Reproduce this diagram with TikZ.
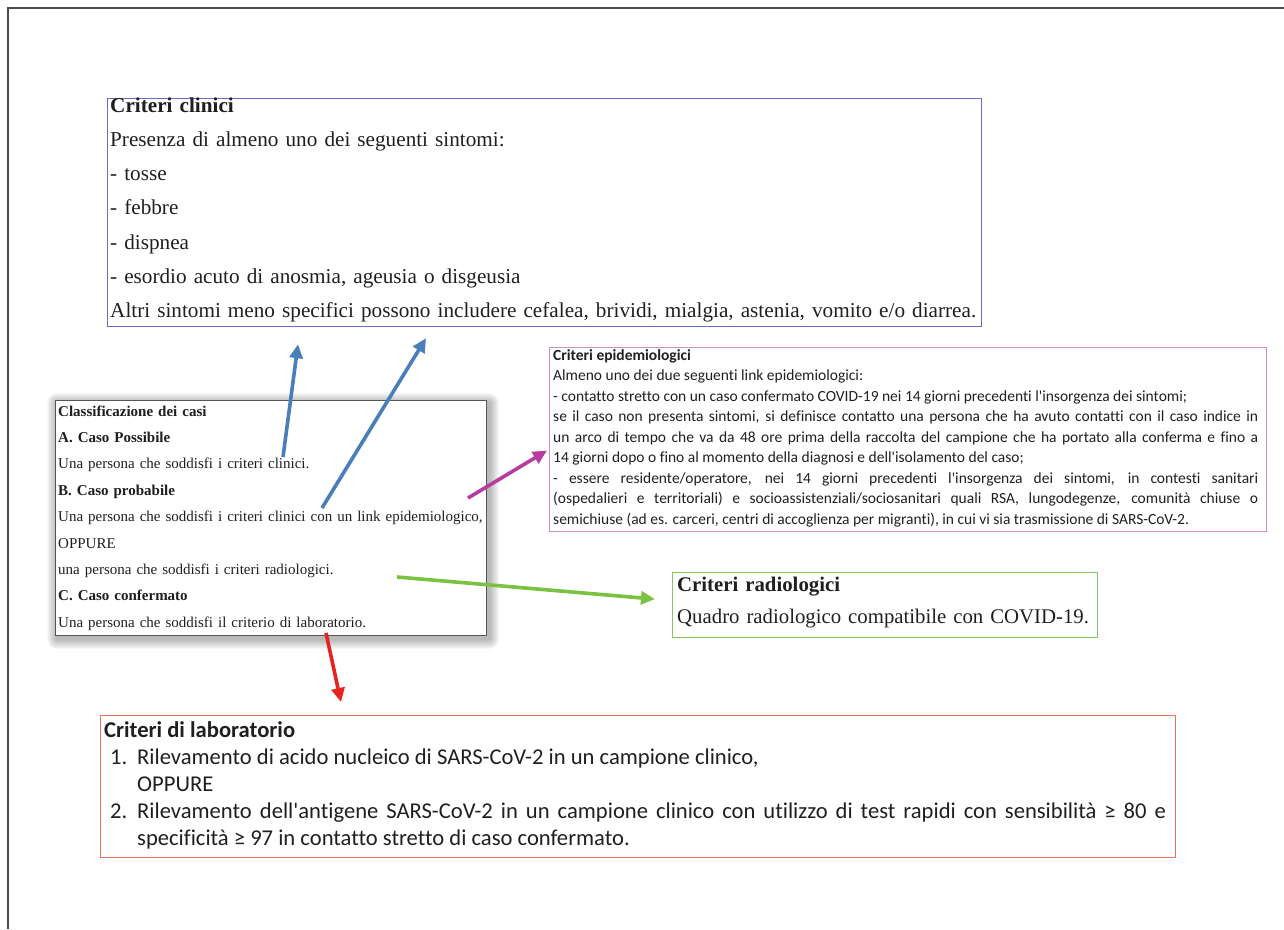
\documentclass[tikz,border=0pt]{standalone}
\usepackage{fontspec}
\setmainfont{Liberation Serif}
\newfontfamily\calibri[Ligatures=NoCommon]{Carlito}
\usetikzlibrary{arrows.meta,calc}
\setlength{\parindent}{0pt}
\definecolor{clinc}{HTML}{6C6CC6}
\definecolor{epidc}{HTML}{D18CC4}
\definecolor{radic}{HTML}{86C660}
\definecolor{labc}{HTML}{EE6F5A}
\definecolor{clasc}{HTML}{555555}
\definecolor{arrblue}{HTML}{4A7EBB}
\definecolor{arrmag}{HTML}{B83C9E}
\definecolor{arrgreen}{HTML}{7CC242}
\definecolor{arrred}{HTML}{E8231F}

\begin{document}
\begin{tikzpicture}[x=1pt,y=-1pt,
  frame/.style={draw,line width=1.2pt,anchor=north west,inner sep=0pt},
  txt/.style={anchor=base west,inner sep=0pt,align=left,text=black!88},
  arr/.style={line width=3.6pt,-{Triangle[length=14pt,width=13pt]}}]
\useasboundingbox (0,0) rectangle (1284,929);
\draw[black!70,line width=1.6pt] (8,929) -- (8,8) -- (1284,8);

% boxes
\node[frame,draw=clinc,minimum width=874pt,minimum height=228pt] (clin) at (107,98) {};
\node[frame,draw=epidc,minimum width=717pt,minimum height=184pt] (epid) at (549,347) {};
\node[frame,draw=radic,minimum width=425pt,minimum height=65pt] (radi) at (672,572) {};
\node[frame,draw=labc,minimum width=1075pt,minimum height=142pt] (labo) at (100,715) {};
\coordinate (clasnw) at (55,400);
\coordinate (classe) at (486,635);
\foreach \k in {1,...,10}
  \fill[black,opacity=0.03,rounded corners=\k pt] ($(clasnw)+(2-\k,3-\k)$) rectangle ($(classe)+(3+\k,4+\k)$);
\node[frame,draw=clasc,fill=white,minimum width=431pt,minimum height=235pt] (clas) at (clasnw) {};

% texts
\node[txt,font=\fontsize{21.2}{34.3}\selectfont,text width=880pt] (clint) at (110,112)
  {\textbf{Criteri clinici}\\ Presenza di almeno uno dei seguenti sintomi:\\ - tosse\\ - febbre\\ - dispnea\\
   - esordio acuto di anosmia, ageusia o disgeusia\\
   Altri sintomi meno specifici possono includere cefalea, brividi, mialgia, astenia, vomito e/o diarrea.};
\node[txt,align=justify,font=\calibri\fontsize{15.5}{20.5}\selectfont,text width=705pt] (epidt) at (553,360)
  {\textbf{Criteri epidemiologici}\\ Almeno uno dei due seguenti link epidemiologici:\\
   - contatto stretto con un caso confermato COVID-19 nei 14 giorni precedenti l'insorgenza dei sintomi;\\
   se il caso non presenta sintomi, si definisce contatto una persona che ha avuto contatti con il caso indice in\linebreak
   un arco di tempo che va da 48 ore prima della raccolta del campione che ha portato alla conferma e fino a\linebreak
   14 giorni dopo o fino al momento della diagnosi e dell'isolamento del caso;\\
   - essere residente/operatore, nei 14 giorni precedenti l'insorgenza dei sintomi, in contesti sanitari\linebreak
   (ospedalieri e territoriali) e socioassistenziali/sociosanitari quali RSA, lungodegenze, comunità chiuse o\linebreak
   semichiuse (ad es. carceri, centri di accoglienza per migranti), in cui vi sia trasmissione di SARS-CoV-2.};
\node[txt,font=\fontsize{15}{26.4}\selectfont,text width=440pt] (clast) at (58,416)
  {\textbf{Classificazione dei casi}\\ \textbf{A. Caso Possibile}\\ Una persona che soddisfi i criteri clinici.\\
   \textbf{B. Caso probabile}\\ Una persona che soddisfi i criteri clinici con un link epidemiologico,\\ OPPURE\\
   una persona che soddisfi i criteri radiologici.\\ \textbf{C. Caso confermato}\\
   Una persona che soddisfi il criterio di laboratorio.};
\node[txt,font=\fontsize{20.8}{32}\selectfont,text width=420pt] (radit) at (677,591)
  {\textbf{Criteri radiologici}\\ Quadro radiologico compatibile con COVID-19.};
\node[txt,align=justify,font=\calibri\fontsize{22.6}{27.2}\selectfont,text width=1062pt] (labot) at (104,737)
  {\textbf{Criteri di laboratorio}\par\leftskip=33pt
   \leavevmode\llap{\makebox[27pt][l]{1.}}Rilevamento di acido nucleico di SARS-CoV-2 in un campione clinico,\\ OPPURE\par
   \leavevmode\llap{\makebox[27pt][l]{2.}}Rilevamento dell'antigene SARS-CoV-2 in un campione clinico con utilizzo di test rapidi con sensibilità ≥ 80 e\linebreak
   specificità ≥ 97 in contatto stretto di caso confermato.\par};

% arrows
\coordinate (possA) at (283,457);
\coordinate (probB) at (322,508);
\coordinate (epiB) at (468,498);
\coordinate (radB) at (397,577);
\coordinate (labC) at (326,633);
\coordinate (clinA) at ($(clin.south west)+(191,17)$);
\coordinate (clinB) at ($(clin.south west)+(319,11)$);
\coordinate (epiH) at ($(epid.west)+(-2,11)$);
\coordinate (radH) at ($(radi.west)+(-17,-6)$);
\coordinate (labH) at ($(labo.north west)+(241,-13)$);
\draw[arr,arrblue] (possA) -- (clinA);
\draw[arr,arrblue] (probB) -- (clinB);
\draw[arr,arrmag] (epiB) -- (epiH);
\draw[arr,arrgreen] (radB) -- (radH);
\draw[arr,arrred] (labC) -- (labH);
\end{tikzpicture}
\end{document}
